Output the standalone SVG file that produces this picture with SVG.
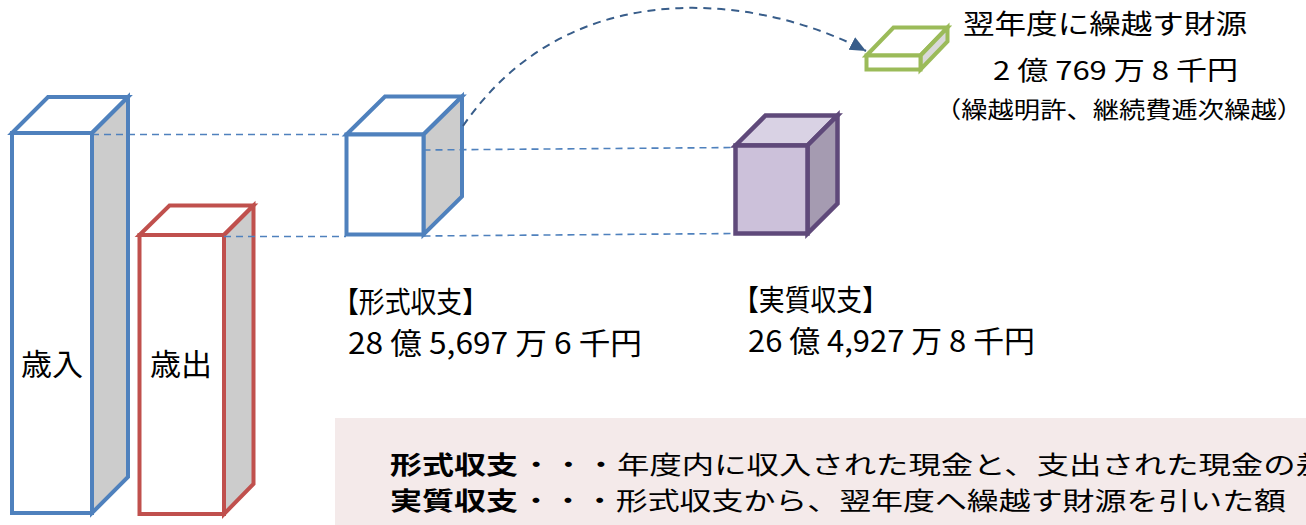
<svg xmlns="http://www.w3.org/2000/svg" width="1306" height="525" viewBox="0 0 1306 525">
<style>
.jp{font-family:"Noto Sans CJK JP","Noto Sans",sans-serif;fill:#000}
.blue{stroke:#4f81bd;stroke-width:4;stroke-linejoin:miter}
.red{stroke:#c0504d;stroke-width:4;stroke-linejoin:miter}
.purple{stroke:#5f497a;stroke-width:4.5;stroke-linejoin:miter}
.green{stroke:#9bbb59;stroke-width:4;stroke-linejoin:miter}
.dash{fill:none;stroke:#4f81bd;stroke-width:1.6;stroke-dasharray:7 5}
.curve{fill:none;stroke:#385d8a;stroke-width:2;stroke-dasharray:8 6}
</style>
<defs>
<marker id="ah" markerUnits="userSpaceOnUse" markerWidth="18" markerHeight="16" refX="16" refY="7" orient="auto" viewBox="0 0 18 14">
<path d="M0,0 L16,7 L0,14 Z" fill="#385d8a"/>
</marker>
</defs>
<rect x="335" y="418" width="971" height="107" fill="#f4eaea"/>

<g id="revenue">
<polygon class="blue" points="12,133 48,97 128,97 92,133" fill="#ffffff"/>
<polygon class="blue" points="92,133 128,97 128,477 92,513" fill="#cccccc"/>
<rect class="blue" x="12" y="133" width="80" height="380" fill="#ffffff"/>
<text class="jp" x="21" y="375" font-size="30" textLength="62" lengthAdjust="spacingAndGlyphs">歳入</text>
</g>

<g id="expenditure">
<polygon class="red" points="139.5,235 169.5,205.5 253.5,205.5 224,235" fill="#ffffff"/>
<polygon class="red" points="224,235 253.5,205.5 253.5,484 224,514" fill="#cccccc"/>
<rect class="red" x="139.5" y="235" width="84.5" height="279" fill="#ffffff"/>
<text class="jp" x="150" y="375" font-size="30" textLength="62" lengthAdjust="spacingAndGlyphs">歳出</text>
</g>

<g id="formal">
<polygon class="blue" points="346.5,134.5 385,96.5 462,96.5 423.5,134.5" fill="#ffffff"/>
<polygon class="blue" points="423.5,134.5 462,96.5 462,196.5 423.5,234.5" fill="#cccccc"/>
<rect class="blue" x="346.5" y="134.5" width="77" height="100" fill="#ffffff"/>
<text class="jp" x="333" y="313" font-size="29" textLength="155" lengthAdjust="spacingAndGlyphs">【形式収支】</text>
<text class="jp" x="348" y="354" font-size="30" textLength="294" lengthAdjust="spacingAndGlyphs">28 億 5,697 万 6 千円</text>
</g>

<g id="real">
<polygon class="purple" points="735.5,145.5 765.5,115.5 837.5,115.5 807.5,145.5" fill="#d9d2e4"/>
<polygon class="purple" points="807.5,145.5 837.5,115.5 837.5,203.5 807.5,233.5" fill="#a59bb1"/>
<rect class="purple" x="735.5" y="145.5" width="72" height="88" fill="#ccc1da"/>
<text class="jp" x="733" y="311" font-size="29" textLength="155" lengthAdjust="spacingAndGlyphs">【実質収支】</text>
<text class="jp" x="748" y="352" font-size="30" textLength="287" lengthAdjust="spacingAndGlyphs">26 億 4,927 万 8 千円</text>
</g>

<g id="carryover">
<polygon class="green" points="866.5,55.5 893.5,27.5 947.5,27.5 920.5,55.5" fill="#ffffff"/>
<polygon class="green" points="920.5,55.5 947.5,27.5 947.5,41.5 920.5,69.5" fill="#d9d9d9"/>
<rect class="green" x="866.5" y="55.5" width="54" height="14" fill="#ffffff"/>
<text class="jp" x="963" y="34" font-size="27" textLength="284" lengthAdjust="spacingAndGlyphs">翌年度に繰越す財源</text>
<text class="jp" x="993" y="80" font-size="26" textLength="245" lengthAdjust="spacingAndGlyphs">2 億 769 万 8 千円</text>
<text class="jp" x="935" y="118" font-size="23" textLength="368" lengthAdjust="spacingAndGlyphs">（繰越明許、継続費逓次繰越）</text>
</g>

<g id="connectors">
<line class="dash" x1="92" y1="134.5" x2="346" y2="134.5"/>
<line class="dash" x1="224" y1="236.5" x2="346" y2="236.5"/>
<line class="dash" x1="423.5" y1="150" x2="735.5" y2="147.5"/>
<line class="dash" x1="423.5" y1="236" x2="735.5" y2="233.5"/>
<path class="curve" d="M463,126 C570,-30 760,-5 866,51" marker-end="url(#ah)"/>
</g>

<g id="legend">
<text class="jp" x="390" y="474" font-size="25" font-weight="bold" textLength="128" lengthAdjust="spacingAndGlyphs">形式収支</text>
<text class="jp" x="520" y="474" font-size="25" textLength="808" lengthAdjust="spacingAndGlyphs">・・・年度内に収入された現金と、支出された現金の差</text>
<text class="jp" x="390" y="510" font-size="25" font-weight="bold" textLength="128" lengthAdjust="spacingAndGlyphs">実質収支</text>
<text class="jp" x="520" y="510" font-size="25" textLength="766" lengthAdjust="spacingAndGlyphs">・・・形式収支から、翌年度へ繰越す財源を引いた額</text>
</g>
</svg>
